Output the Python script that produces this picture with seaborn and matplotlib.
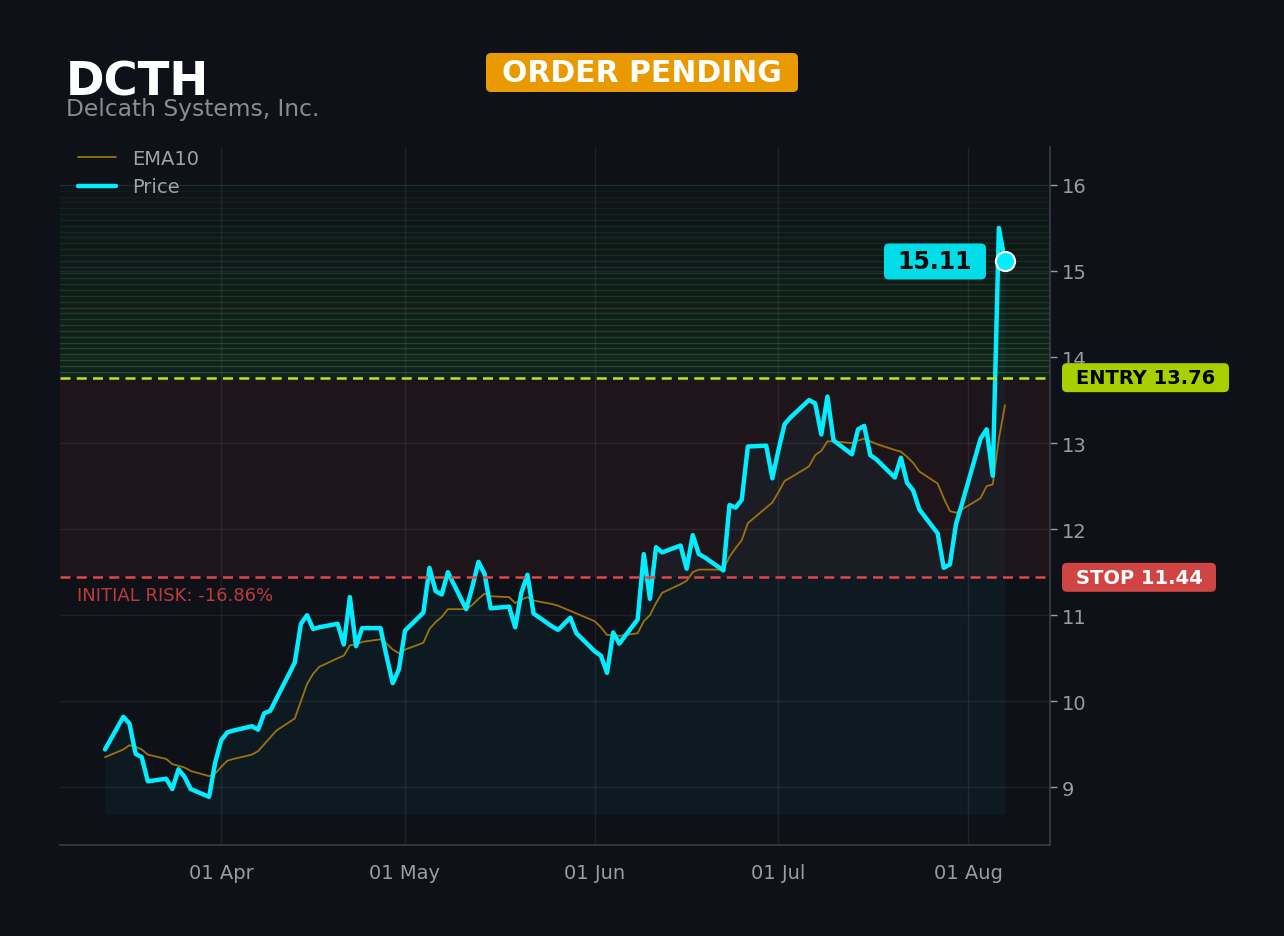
import numpy as np
import pandas as pd
import matplotlib
matplotlib.use("Agg")
import matplotlib.pyplot as plt
import matplotlib.dates as mdates
from matplotlib.patches import FancyBboxPatch
from matplotlib.ticker import MultipleLocator
import seaborn as sb

# ticker / levels
ticker = "DCTH"
company = "Delcath Systems, Inc."
status = "ORDER PENDING"
entry = 13.76
stop = 11.44
target_top = 16.0
fill_base = 8.69

# trading days (timestamps sit one day early, Sun-Thu)
dates = pd.bdate_range("2025-03-13", "2025-08-07", freq="C", weekmask="Sun Mon Tue Wed Thu")

# closing prices, one row per week
price = [
    9.44,
    9.82, 9.74, 9.39, 9.35, 9.07,
    9.10, 8.98, 9.21, 9.12, 8.98,
    8.89, 9.29, 9.55, 9.64, 9.66,
    9.71, 9.67, 9.86, 9.89, 10.03,
    10.45, 10.90, 11.00, 10.84, 10.86,
    10.90, 10.66, 11.21, 10.64, 10.85,
    10.85, 10.52, 10.21, 10.37, 10.82,
    11.03, 11.55, 11.28, 11.24, 11.50,
    11.07, 11.33, 11.62, 11.48, 11.08,
    11.10, 10.86, 11.26, 11.47, 11.02,
    10.87, 10.83, 10.90, 10.97, 10.79,
    10.58, 10.53, 10.33, 10.80, 10.67,
    10.95, 11.71, 11.19, 11.79, 11.73,
    11.81, 11.54, 11.93, 11.71, 11.67,
    11.52, 12.28, 12.25, 12.34, 12.96,
    12.97, 12.59, 12.92, 13.22, 13.30,
    13.50, 13.46, 13.10, 13.54, 13.03,
    12.87, 13.16, 13.20, 12.86, 12.81,
    12.60, 12.83, 12.54, 12.45, 12.23,
    11.95, 11.55, 11.59, 12.06, 12.30,
    13.05, 13.16, 12.62, 15.50, 15.11,
]

ema10 = [
    9.35,
    9.44, 9.49, 9.47, 9.44, 9.38,
    9.33, 9.27, 9.25, 9.23, 9.19,
    9.13, 9.16, 9.24, 9.31, 9.33,
    9.38, 9.42, 9.50, 9.58, 9.66,
    9.80, 10.00, 10.20, 10.32, 10.40,
    10.50, 10.53, 10.65, 10.66, 10.69,
    10.72, 10.67, 10.60, 10.56, 10.60,
    10.68, 10.84, 10.92, 10.98, 11.07,
    11.07, 11.12, 11.19, 11.25, 11.22,
    11.21, 11.14, 11.18, 11.21, 11.17,
    11.13, 11.11, 11.08, 11.05, 11.02,
    10.93, 10.86, 10.77, 10.77, 10.76,
    10.79, 10.93, 11.00, 11.14, 11.26,
    11.36, 11.40, 11.50, 11.53, 11.53,
    11.53, 11.68, 11.78, 11.87, 12.07,
    12.25, 12.31, 12.43, 12.56, 12.60,
    12.73, 12.86, 12.91, 13.02, 13.02,
    13.00, 13.03, 13.05, 13.02, 12.99,
    12.92, 12.90, 12.84, 12.77, 12.67,
    12.53, 12.36, 12.21, 12.19, 12.23,
    12.36, 12.50, 12.52, 13.05, 13.44,
]

df = pd.DataFrame({"date": dates, "Price": price, "EMA10": ema10})

bg = "#0e1118"
cyan = "#00eeff"
gold = "#9c720f"
red = "#e04848"
lime = "#c6e21a"

sb.set_style("dark", {"axes.facecolor": bg, "figure.facecolor": bg})
plt.rcParams["font.family"] = ["DejaVu Sans"]

W, H = 1284, 937
fig = plt.figure(figsize=(W / 100, H / 100), dpi=100)
ax = fig.add_axes([60 / W, 91 / H, 990 / W, 698 / H])
ax.set_facecolor(bg)


def pill(x0, yc, w, h, color, text, tcolor, size):
    # rounded label box, sizes in pixels (display coords / 100 = inches)
    fig.patches.append(FancyBboxPatch((x0 / 100, (yc - h / 2) / 100), w / 100, h / 100,
                                      boxstyle="round,pad=0,rounding_size=0.05",
                                      transform=fig.dpi_scale_trans, fc=color, ec="none", zorder=10))
    fig.text((x0 + w / 2) / 100, yc / 100, text, transform=fig.dpi_scale_trans,
             ha="center", va="center", fontsize=size, fontweight="bold", color=tcolor, zorder=11)


# zones
ax.axhspan(stop, entry, color=red, alpha=0.08, lw=0, zorder=0)
n = 33
step = (target_top - entry) / n
for i in range(n):
    f = 1 - i / n
    ax.axhspan(entry + i * step, entry + (i + 1) * step, color="#1d4a26", alpha=0.05 + 0.25 * f, lw=0, zorder=0)
    ax.axhline(entry + (i + 1) * step, color="#2e8a3a", alpha=0.06 + 0.38 * f, lw=1.0, zorder=0)

# area under price
ax.fill_between(df["date"], fill_base, df["Price"], color="#00e5ff", alpha=0.045, lw=0, zorder=1)

sb.lineplot(data=df, x="date", y="EMA10", ax=ax, color=gold, lw=1.3, label="EMA10", zorder=3)
sb.lineplot(data=df, x="date", y="Price", ax=ax, color=cyan, lw=3.2, label="Price", zorder=4)

ax.axhline(entry, color=lime, lw=1.8, ls=(0, (4, 2.5)), zorder=5)
ax.axhline(stop, color=red, lw=1.8, ls=(0, (4, 2.5)), zorder=5)

last_d = df["date"].iloc[-1]
last_p = df["Price"].iloc[-1]
ax.scatter([last_d], [last_p], s=190, color=cyan, edgecolor="white", linewidth=1.5, zorder=6)

risk = (stop - entry) / entry * 100
tr = ax.get_yaxis_transform()
ax.text(0.017, 11.24, f"INITIAL RISK: {risk:.2f}%", transform=tr, ha="left", va="center",
        fontsize=13, color="#c03a3c")

# axes
ax.set_ylim(8.33, 16.44)
ax.yaxis.set_major_locator(MultipleLocator(1))
ax.yaxis.tick_right()
ax.xaxis.set_major_locator(mdates.MonthLocator(bymonthday=1))
ax.xaxis.set_major_formatter(mdates.DateFormatter("%d %b"))
ax.set_xlabel("")
ax.set_ylabel("")
ax.tick_params(colors="#9a9ca3", labelsize=14, length=5, width=1)
ax.tick_params(axis="x", pad=8)
ax.grid(True, color="#ffffff", alpha=0.07, lw=1)
for s in ["top", "left"]:
    ax.spines[s].set_visible(False)
for s in ["right", "bottom"]:
    ax.spines[s].set_visible(True)
    ax.spines[s].set_color("#3a3d44")
    ax.spines[s].set_linewidth(1.2)

leg = ax.legend(loc="upper left", bbox_to_anchor=(0.004, 1.017), frameon=False, fontsize=14,
                handlelength=2.0, borderaxespad=0.3, labelspacing=0.5)
for t in leg.get_texts():
    t.set_color("#a0a2a8")

# label boxes placed from the axes transform
fig.canvas.draw()
right_px = ax.transAxes.transform((1, 0))[0]
entry_y = ax.transData.transform((0, entry))[1]
stop_y = ax.transData.transform((0, stop))[1]
pill(right_px + 12, entry_y, 167, 29, "#a8cf00", f"ENTRY {entry:.2f}", "black", 14)
pill(right_px + 12, stop_y, 154, 29, "#d04444", f"STOP {stop:.2f}", "white", 14)
mx, my = ax.transData.transform((mdates.date2num(last_d), last_p))
pill(mx - 19 - 102, my, 102, 36, "#00dde8", f"{last_p:.2f}", "#0a0a0a", 17)

# header
fig.text(66 / W, 1 - 95 / H, ticker, fontsize=33.5, fontweight="bold", color="white", va="baseline")
fig.text(66 / W, 1 - 116 / H, company, fontsize=16.8, color="#8a8c90", va="baseline")
pill(486, H - 73.5, 312, 39, "#e89a00", status, "white", 21.5)

fig.savefig("out.png", dpi=100, facecolor=bg)
